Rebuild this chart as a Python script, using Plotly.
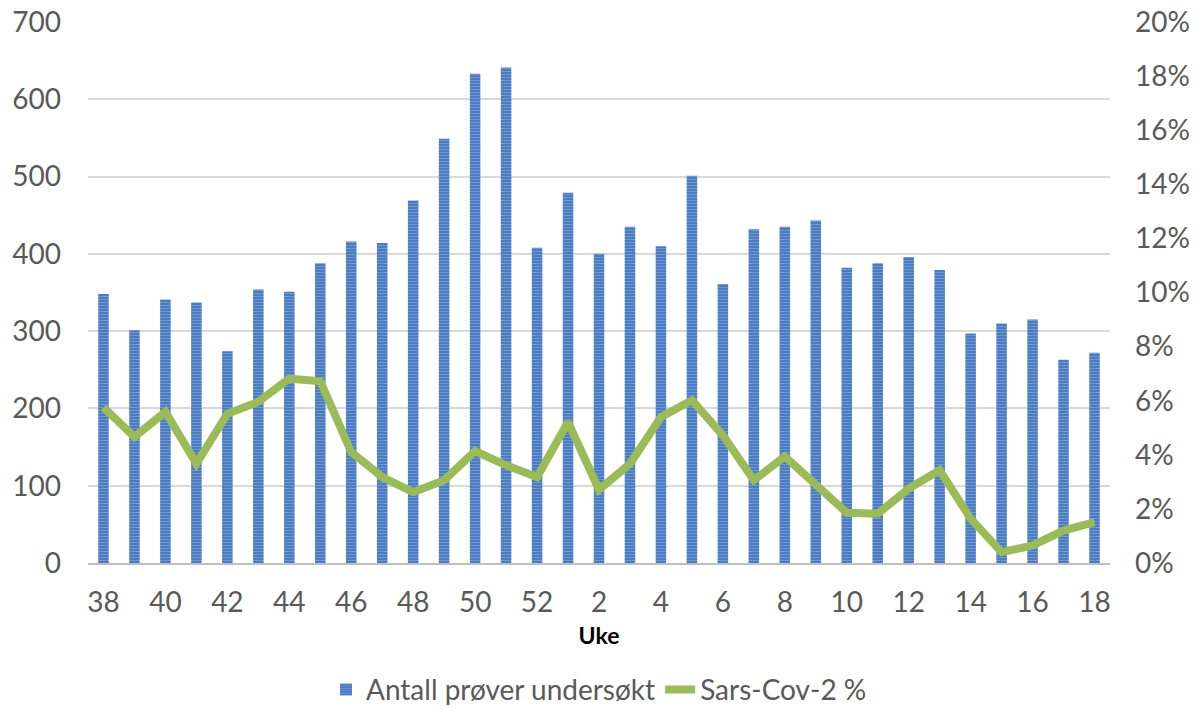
import plotly.graph_objects as go

weeks = ["38","39","40","41","42","43","44","45","46","47","48","49","50","51","52","53",
         "2","3","4","5","6","7","8","9","10","11","12","13","14","15","16","17","18"]
antall = [348, 301, 341, 337, 274, 354, 351, 388, 416, 414, 469, 549, 633, 641, 408, 479,
          400, 435, 410, 501, 361, 432, 435, 443, 382, 388, 396, 379, 297, 310, 315, 263, 272]
sars_pct = [5.75, 4.66, 5.59, 3.67, 5.52, 5.96, 6.82, 6.72, 4.10, 3.18, 2.62, 3.06, 4.14, 3.61, 3.18, 5.21,
            2.71, 3.67, 5.40, 6.02, 4.72, 3.06, 3.94, 2.87, 1.86, 1.82, 2.75, 3.43, 1.64, 0.40, 0.65, 1.20, 1.51]
tick_labels = weeks[::2]

sars = [v / 100 for v in sars_pct]

font_family = "Lato, Open Sans, sans-serif"
grey = "#595959"

fig = go.Figure()
fig.add_trace(go.Bar(
    x=weeks, y=antall, name="Antall prøver undersøkt",
    marker=dict(color="#4F81C7", line=dict(width=0),
                pattern=dict(shape="-", fgcolor="#9FB9E2", bgcolor="#4A7CC4", size=3, solidity=0.3)),
    yaxis="y",
))
fig.add_trace(go.Scatter(
    x=weeks, y=sars, name="Sars-Cov-2 %", mode="lines",
    line=dict(color="#9BBB59", width=8), yaxis="y2",
))

fig.update_layout(
    width=1204, height=709,
    margin=dict(l=88, r=94, t=22, b=146, autoexpand=False),
    plot_bgcolor="white", paper_bgcolor="white",
    bargap=0.66,
    font=dict(family=font_family, color=grey, size=28),
    xaxis=dict(type="category", categoryorder="array", categoryarray=weeks,
               tickmode="array", tickvals=tick_labels, ticktext=tick_labels,
               showgrid=False, showline=True, linecolor="#BFBFBF", linewidth=2,
               ticks="", tickfont=dict(size=28, color=grey), ticklabelstandoff=13,
               title=dict(text="<b>Uke</b>", font=dict(size=23, color="black"), standoff=11)),
    yaxis=dict(range=[0, 700], tickvals=[0,100,200,300,400,500,600,700],
               showgrid=True, gridcolor="#D9D9D9", gridwidth=1.5, zeroline=False,
               ticks="", tickfont=dict(size=28, color=grey), ticklabelstandoff=26,
               ticklabeloverflow="allow"),
    yaxis2=dict(range=[0, 0.20], overlaying="y", side="right",
                tickvals=[i/100 for i in range(0, 21, 2)], tickformat=".0%",
                showgrid=False, zeroline=False, ticks="",
                tickfont=dict(size=28, color=grey), ticklabelstandoff=24,
                ticklabeloverflow="allow"),
    legend=dict(orientation="h", x=0.5, xanchor="center", xref="paper",
                y=0.027, yref="container", yanchor="middle",
                font=dict(size=28, color=grey)),
)

fig.write_html("out.html",
               config={"displayModeBar": False},
               post_script="document.body.style.margin='0px';document.body.style.overflow='hidden';")
